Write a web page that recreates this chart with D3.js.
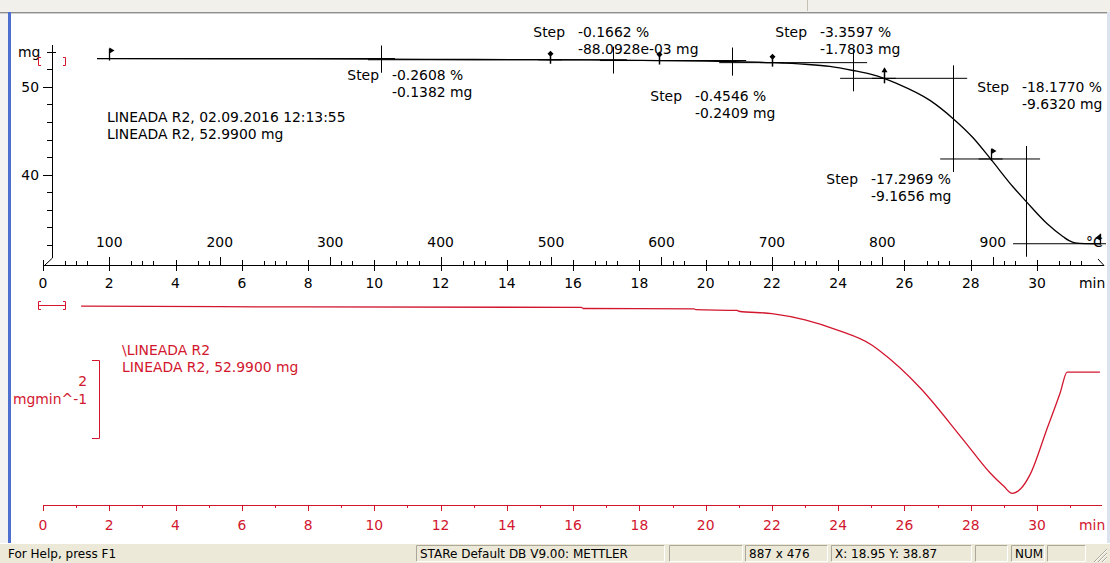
<!DOCTYPE html>
<html>
<head>
<meta charset="utf-8">
<script src="https://cdn.jsdelivr.net/npm/d3@7"></script>
<style>
  html, body { margin: 0; padding: 0; background: #fff; }
  svg { display: block; }
  text { font-family: "DejaVu Sans", Verdana, sans-serif; }
</style>
</head>
<body>
<svg id="chart" width="1110" height="563"></svg>
<script>
// ---------- data ----------
// TGA mass curve (time in min, mass in mg)
const tgTime = [1.63, 2, 6, 10.2, 13, 15.3, 17.2, 18.6, 20, 20.8, 22, 23, 23.75, 24.45, 25, 25.38, 25.78, 26.77, 27.47, 28.07, 28.6, 29.28, 29.67, 30.3, 30.79, 30.97, 31.15, 31.45, 31.9];
const tgMass = [53.2, 53.2, 53.17, 53.13, 53.09, 53.062, 53.02, 52.974, 52.9, 52.85, 52.733, 52.55, 52.3, 51.84, 51.4, 50.953, 50.35, 48.45, 46.37, 44.2, 41.79, 38.6, 36.97, 34.45, 32.95, 32.5, 32.25, 32.17, 32.155];

// first derivative (mg/min)
const dtgTime = [1.15, 8, 16.25, 16.3, 19.65, 19.7, 20.95, 21.0, 22, 23, 24, 25, 25.26, 26.47, 27.77, 28.58, 29.0, 29.25, 29.5, 29.79, 30.3, 30.7, 30.91, 31.9];
const dtgRate = [-0.03, -0.05, -0.06, -0.09, -0.1, -0.12, -0.14, -0.16, -0.22, -0.38, -0.65, -1.02, -1.18, -2.12, -3.45, -4.3, -4.65, -4.83, -4.72, -4.35, -3.18, -2.25, -1.72, -1.72];

// step evaluations
const stepStart = [2, 15.3, 18.6, 22, 25.38, 28.6];
const stepEnd   = [15.3, 18.6, 22, 25.38, 28.6, 31.9];
const stepMid   = [10.2, 17.2, 20.8, 24.45, 27.47, 29.67];
const stepPercent = [-0.2608, -0.1662, -0.4546, -3.3597, -17.2969, -18.1770];
const stepMg      = [-0.1382, -0.0880928, -0.2409, -1.7803, -9.1656, -9.6320];
const startLevel = 53.2; // mg at the first step limit

// axis ticks
const timeTicks = d3.range(0, 31, 2);
const timeMinor = d3.range(1, 32, 2);
const tempTicks = [100, 200, 300, 400, 500, 600, 700, 800, 900];
const tempMinor = [60, 80, 120, 140, 160, 180, 220, 240, 260, 280, 320, 340, 360, 380, 420, 440, 460, 480, 520, 540, 560, 580, 620, 640, 660, 680, 720, 740, 760, 780, 820, 840, 860, 880, 920, 940, 960, 980];
const massTicks = [50, 40];
const massMinor = [54, 52, 48, 46, 44, 42, 38, 36, 34, 32];

// heating programme: 40 °C start, 30 K/min
const heatStart = 40, heatRate = 30;

// ---------- layout ----------
const RED = "#d2162e";
const FONT = 13.9;
const axisY = 265, redAxisY = 505;
const labelPos = [[392, 80], [578, 37], [695, 101], [820, 37], [871, 184], [1022, 92]];

const x = d3.scaleLinear().domain([0, 30]).range([43, 1037]);
const yMass = d3.scaleLinear().domain([40, 50]).range([174.7, 86.7]);
const yRate = d3.scaleLinear().domain([-1, 0]).range([344, 305]);
const xTemp = T => x((T - heatStart) / heatRate);

const svg = d3.select("#chart");

// ---------- window frame ----------
svg.append("rect").attr("width", 1110).attr("height", 563).attr("fill", "#fff");
svg.append("rect").attr("x", 0).attr("y", 0).attr("width", 1110).attr("height", 12).attr("fill", "#f1f0ea");
svg.append("line").attr("x1", 0).attr("x2", 1110).attr("y1", 12.5).attr("y2", 12.5).attr("stroke", "#8e8e8e");
svg.append("line").attr("x1", 0).attr("x2", 1110).attr("y1", 13.5).attr("y2", 13.5).attr("stroke", "#cfcfcf");
svg.append("line").attr("x1", 807.5).attr("x2", 807.5).attr("y1", 0).attr("y2", 11).attr("stroke", "#c4c1b4");
svg.append("rect").attr("x", 0).attr("y", 14).attr("width", 8).attr("height", 529).attr("fill", "#f3f3f3");
svg.append("rect").attr("x", 8).attr("y", 12).attr("width", 3).attr("height", 531).attr("fill", "#4d70d0");
svg.append("rect").attr("x", 1107).attr("y", 12).attr("width", 3).attr("height", 531).attr("fill", "#dde3ee");

// ---------- upper plot: mass axis ----------
const gAx = svg.append("g").attr("stroke", "#000").attr("stroke-width", 1);
gAx.append("line").attr("x1", 52.5).attr("x2", 52.5).attr("y1", 45).attr("y2", 258);
gAx.append("line").attr("x1", 52.5).attr("x2", 45).attr("y1", 258).attr("y2", 265);
gAx.selectAll(".mj").data(massTicks).join("line")
  .attr("x1", 43).attr("x2", 52.5)
  .attr("y1", d => Math.round(yMass(d)) + 0.5).attr("y2", d => Math.round(yMass(d)) + 0.5);
gAx.selectAll(".mn").data(massMinor).join("line")
  .attr("x1", 47).attr("x2", d => d === 54 ? 56 : 52.5)
  .attr("y1", d => Math.round(yMass(d)) + 0.5).attr("y2", d => Math.round(yMass(d)) + 0.5);

svg.selectAll(".massLbl").data(massTicks).join("text")
  .attr("x", 39).attr("y", d => yMass(d) + 5).attr("text-anchor", "end")
  .attr("font-size", FONT).text(d => d);
svg.append("text").attr("x", 18).attr("y", 57).attr("font-size", FONT).text("mg");

// small red range bracket
svg.append("path").attr("d", "M41,57.5H38.5V65.5H41M63,57.5H65.5V65.5H63")
  .attr("fill", "none").attr("stroke", RED);

// ---------- upper time / temperature axis ----------
gAx.append("line").attr("x1", x(0)).attr("x2", 1104).attr("y1", axisY + 0.5).attr("y2", axisY + 0.5);
gAx.append("line").attr("x1", 1098).attr("x2", 1104).attr("y1", axisY - 6).attr("y2", axisY + 0.5);
gAx.selectAll(".tmaj").data(timeTicks).join("line")
  .attr("x1", d => Math.round(x(d)) + 0.5).attr("x2", d => Math.round(x(d)) + 0.5)
  .attr("y1", axisY - 5).attr("y2", axisY + 6);
gAx.selectAll(".tmin").data(timeMinor).join("line")
  .attr("x1", d => Math.round(x(d)) + 0.5).attr("x2", d => Math.round(x(d)) + 0.5)
  .attr("y1", axisY - 4).attr("y2", axisY);
gAx.selectAll(".Tmaj").data(tempTicks).join("line")
  .attr("x1", d => Math.round(xTemp(d)) + 0.5).attr("x2", d => Math.round(xTemp(d)) + 0.5)
  .attr("y1", axisY - 8).attr("y2", axisY);
gAx.selectAll(".Tmin").data(tempMinor).join("line")
  .attr("x1", d => Math.round(xTemp(d)) + 0.5).attr("x2", d => Math.round(xTemp(d)) + 0.5)
  .attr("y1", axisY - 4).attr("y2", axisY);

svg.selectAll(".timeLbl").data(timeTicks).join("text")
  .attr("x", d => x(d)).attr("y", axisY + 23).attr("text-anchor", "middle")
  .attr("font-size", FONT).text(d => d);
svg.append("text").attr("x", 1079).attr("y", axisY + 23).attr("font-size", FONT).text("min");
svg.selectAll(".tempLbl").data(tempTicks).join("text")
  .attr("x", d => xTemp(d)).attr("y", axisY - 18).attr("text-anchor", "middle")
  .attr("font-size", FONT).text(d => d);
svg.append("text").attr("x", 1086).attr("y", axisY - 18).attr("font-size", FONT).text("°C");

// ---------- step evaluation ----------
const levels = [startLevel, ...d3.cumsum(stepMg).map(v => startLevel + v)];
const gStep = svg.append("g").attr("stroke", "#000").attr("stroke-width", 1);
stepMid.forEach((m, i) => {
  const yb = yMass(levels[i]), ya = yMass(levels[i + 1]);
  gStep.append("line").attr("x1", x(stepStart[i]) - 12).attr("x2", x(m) + 14).attr("y1", yb).attr("y2", yb);
  gStep.append("line").attr("x1", x(m) - 13).attr("x2", Math.min(x(stepEnd[i]) + 12, 1106)).attr("y1", ya).attr("y2", ya);
  gStep.append("line").attr("x1", Math.round(x(m)) + 0.5).attr("x2", Math.round(x(m)) + 0.5)
    .attr("y1", yb - 13).attr("y2", ya + 13);
});

// TG curve
const tgLine = d3.line().x(d => x(d[0])).y(d => yMass(d[1])).curve(d3.curveMonotoneX);
svg.append("path").attr("d", tgLine(d3.zip(tgTime, tgMass)))
  .attr("fill", "none").attr("stroke", "#000").attr("stroke-width", 1.3);

// step limit markers
const markerTime = [...stepStart, stepEnd[stepEnd.length - 1]];
const markerKind = ["flag", "pin", "pin", "pin", "arrow", "flag", "flagL"];
const gMk = svg.append("g");
markerTime.forEach((t, i) => {
  const mx = Math.round(x(t)) + 0.5, my = yMass(levels[i]);
  const k = markerKind[i];
  if (k === "pin") {
    gMk.append("line").attr("x1", mx).attr("x2", mx).attr("y1", my - 6).attr("y2", my + 4).attr("stroke", "#000").attr("stroke-width", 1.5);
    gMk.append("path").attr("d", `M${mx},${my - 9}l3,3l-3,3l-3,-3z`).attr("fill", "#000");
  } else if (k === "arrow") {
    gMk.append("line").attr("x1", mx).attr("x2", mx).attr("y1", my - 9).attr("y2", my + 5).attr("stroke", "#000").attr("stroke-width", 1.5);
    gMk.append("path").attr("d", `M${mx - 3},${my - 6}L${mx},${my - 11}L${mx + 3},${my - 6}z`).attr("fill", "#000");
  } else if (k === "flag") {
    gMk.append("line").attr("x1", mx).attr("x2", mx).attr("y1", my - 10).attr("y2", my + 2).attr("stroke", "#000").attr("stroke-width", 1.3);
    gMk.append("path").attr("d", `M${mx},${my - 11}L${mx + 5},${my - 8}L${mx},${my - 5}z`).attr("fill", "#000");
  } else {
    gMk.append("line").attr("x1", mx).attr("x2", mx).attr("y1", my - 10).attr("y2", my + 1).attr("stroke", "#000").attr("stroke-width", 1.3);
    gMk.append("path").attr("d", `M${mx},${my - 10}L${mx - 5},${my - 6}L${mx},${my - 3}z`).attr("fill", "#000");
  }
});

// step labels
const fmtMg = v => Math.abs(v) < 0.1 ? (v * 1000).toFixed(4) + "e-03 mg" : v.toFixed(4) + " mg";
stepPercent.forEach((p, i) => {
  const [lx, ly] = labelPos[i];
  svg.append("text").attr("x", lx - 13).attr("y", ly).attr("text-anchor", "end").attr("font-size", FONT).text("Step");
  svg.append("text").attr("x", lx).attr("y", ly).attr("font-size", FONT).text(p.toFixed(4) + " %");
  svg.append("text").attr("x", lx).attr("y", ly + 17).attr("font-size", FONT).text(fmtMg(stepMg[i]));
});

svg.append("text").attr("x", 107).attr("y", 122).attr("font-size", FONT).text("LINEADA R2, 02.09.2016 12:13:55");
svg.append("text").attr("x", 107).attr("y", 139).attr("font-size", FONT).text("LINEADA R2, 52.9900 mg");

// ---------- lower plot: DTG ----------
svg.append("path").attr("d", "M41,301.5H38.5V309.5H41M38.5,305.5H65M63,301.5H65.5V309.5H63")
  .attr("fill", "none").attr("stroke", RED);
const dtgLine = d3.line().x(d => x(d[0])).y(d => yRate(d[1])).curve(d3.curveMonotoneX);
svg.append("path").attr("d", dtgLine(d3.zip(dtgTime, dtgRate)))
  .attr("fill", "none").attr("stroke", RED).attr("stroke-width", 1.3);

// rate scale bar (2 mg/min)
const barTop = 360;
const barBot = barTop + (yRate(-2) - yRate(0));
svg.append("path").attr("d", `M92,${barTop + 0.5}H99.5V${barBot + 0.5}H92`)
  .attr("fill", "none").attr("stroke", RED);
svg.append("text").attr("x", 87).attr("y", 386).attr("text-anchor", "end").attr("font-size", FONT).attr("fill", RED).text("2");
svg.append("text").attr("x", 87).attr("y", 404).attr("text-anchor", "end").attr("font-size", FONT).attr("fill", RED).text("mgmin^-1");
svg.append("text").attr("x", 122).attr("y", 355).attr("font-size", FONT).attr("fill", RED).text("\\LINEADA R2");
svg.append("text").attr("x", 122).attr("y", 372).attr("font-size", FONT).attr("fill", RED).text("LINEADA R2, 52.9900 mg");

// red time axis
const gRed = svg.append("g").attr("stroke", RED);
gRed.append("line").attr("x1", x(0)).attr("x2", 1102).attr("y1", redAxisY + 0.5).attr("y2", redAxisY + 0.5);
gRed.selectAll(".rmaj").data(timeTicks).join("line")
  .attr("x1", d => Math.round(x(d)) + 0.5).attr("x2", d => Math.round(x(d)) + 0.5)
  .attr("y1", redAxisY).attr("y2", redAxisY + 6);
gRed.selectAll(".rmin").data(timeMinor).join("line")
  .attr("x1", d => Math.round(x(d)) + 0.5).attr("x2", d => Math.round(x(d)) + 0.5)
  .attr("y1", redAxisY).attr("y2", redAxisY + 3);
svg.selectAll(".rLbl").data(timeTicks).join("text")
  .attr("x", d => x(d)).attr("y", redAxisY + 25).attr("text-anchor", "middle")
  .attr("font-size", FONT).attr("fill", RED).text(d => d);
svg.append("text").attr("x", 1079).attr("y", redAxisY + 25).attr("font-size", FONT).attr("fill", RED).text("min");

// ---------- status bar ----------
svg.append("rect").attr("x", 0).attr("y", 543).attr("width", 1110).attr("height", 20).attr("fill", "#ece9d8");
svg.append("line").attr("x1", 0).attr("x2", 1110).attr("y1", 543.5).attr("y2", 543.5).attr("stroke", "#fff");
const panels = [[416, 664, "STARe Default DB V9.00: METTLER"], [669, 742, ""], [745, 827, "887 x 476"],
                [831, 971, "X: 18.95 Y: 38.87"], [975, 1007, ""], [1011, 1044, "NUM"], [1047, 1085, ""]];
panels.forEach(([a, b, t]) => {
  svg.append("path").attr("d", `M${a + 0.5},561.5V545.5H${b + 0.5}`).attr("fill", "none").attr("stroke", "#aca899");
  svg.append("path").attr("d", `M${b + 0.5},545.5V561.5H${a + 0.5}`).attr("fill", "none").attr("stroke", "#fff");
  if (t) svg.append("text").attr("x", a + 4).attr("y", 557.5).attr("font-size", 12).attr("fill", "#000").text(t);
});
svg.append("text").attr("x", 8).attr("y", 557.5).attr("font-size", 12).attr("fill", "#000").text("For Help, press F1");
[0, 4, 8].forEach(o => {
  svg.append("line").attr("x1", 1094 + o).attr("y1", 562).attr("x2", 1107).attr("y2", 549 + o).attr("stroke", "#aca899");
  svg.append("line").attr("x1", 1095 + o).attr("y1", 562).attr("x2", 1107).attr("y2", 550 + o).attr("stroke", "#fff");
});
</script>
</body>
</html>
